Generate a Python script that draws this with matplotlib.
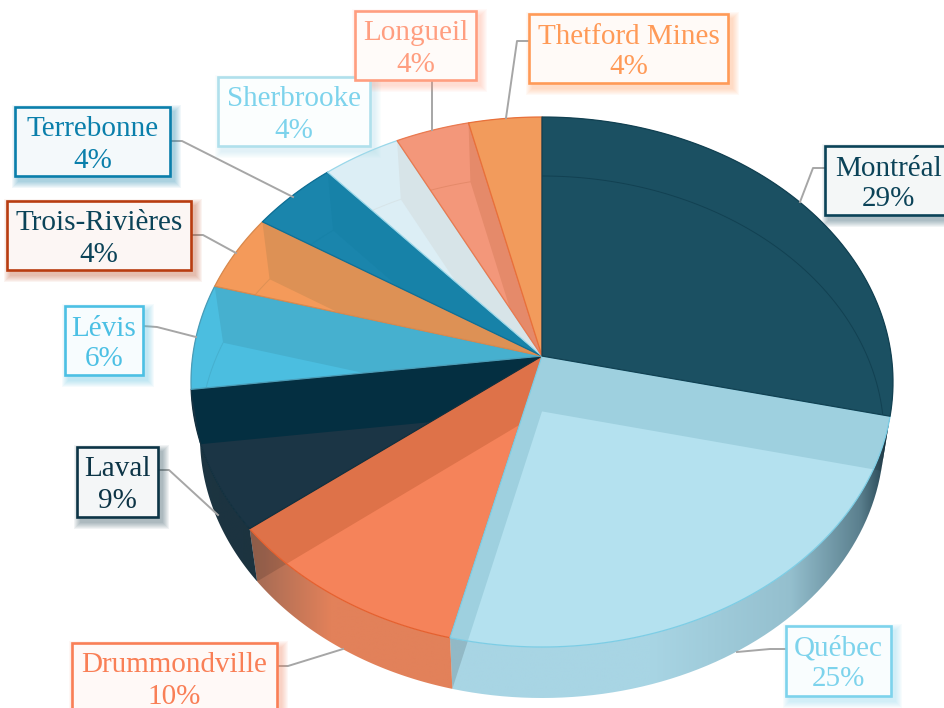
import numpy as np
import matplotlib
matplotlib.use("Agg")
import matplotlib.pyplot as plt
from matplotlib.patches import Polygon, Rectangle
from matplotlib.colors import to_rgb

# ---------- data ----------
cities = ["Montréal", "Québec", "Drummondville", "Laval", "Lévis",
          "Trois-Rivières", "Terrebonne", "Sherbrooke", "Longueil", "Thetford Mines"]
shares = [28.6, 25.23, 10.57, 8.6, 6.4, 4.65, 4.5, 4.0, 3.75, 3.7]
printed_pct = ["29%", "25%", "10%", "9%", "6%", "4%", "4%", "4%", "4%", "4%"]

# ---------- styles ----------
top_colors = ["#1b5062", "#b4e1ef", "#f5835a", "#1b3545", "#4bbee0",
              "#f49a5a", "#1a85ac", "#dceef5", "#f3977a", "#f29b5c"]
band_colors = ["#1b5062", "#9ed0df", "#de7249", "#042f41", "#46b0cf",
               "#dd9155", "#1782a8", "#d7e4e8", "#e58a6a", "#f29b5c"]
edge_colors = ["#124152", "#7ccde5", "#e5602e", "#12303f", "#4a9db8",
               "#d98a4e", "#0f6f95", "#9ad8ea", "#ea7a50", "#e8703a"]
wall_colors = ["#1c4a5c", "#a8d5e4", "#e2815a", "#1c303c", "#3f9fc0",
               "#d98a4e", "#15708f", "#c8dde5", "#d88468", "#d98a4e"]
text_colors = ["#0b4358", "#7dd3ec", "#f97f56", "#0c3446", "#4cc0e4",
               "#0b4358", "#0a7fab", "#7dd3ec", "#ff9e80", "#ff9a57"]
box_edges = ["#0b4358", "#7dd3ec", "#f97f56", "#0c3446", "#4cc0e4",
             "#b83c10", "#0a7fab", "#b0e0ec", "#ff9e80", "#ff9a57"]

# label layout in figure pixels: left, right, top, bottom
boxes = [(825, 952, 146, 215), (786, 891, 626, 696), (72, 277, 643, 714),
         (77, 158, 447, 517), (65, 143, 306, 375), (7, 191, 201, 270),
         (15, 170, 107, 176), (218, 370, 77, 146), (355, 476, 11, 80),
         (529, 728, 14, 83)]
leaders = [[(825, 168), (813, 168), (800, 202)], [(786, 649), (770, 649), (737, 652)],
           [(278, 666), (288, 666), (343, 649)], [(159, 470), (169, 470), (218, 515)],
           [(143, 326), (157, 327), (196, 337)], [(192, 235), (203, 235), (236, 253)],
           [(171, 141), (182, 141), (293, 197)], [],
           [(432, 81), (432, 130)], [(529, 41), (517, 41), (506, 118)]]

# 3-D pie projection (two ellipses, seen in perspective)
CX = 542
TOP = dict(cy=382, a=351, b=265)
BOT = dict(cy=437, a=342, b=261)
P = 0.098


def rim(frac, e):
    t = 2 * np.pi * np.asarray(frac)
    x, y = np.sin(t), np.cos(t)
    d = 1 + P * y
    return np.column_stack([CX + e["a"] * x * np.sqrt(1 - P**2) / d,
                            e["cy"] - e["b"] * (y + P) / d])


def apex(e):
    return np.array([CX, e["cy"] - e["b"] * P])


def shade(color, xs):
    t = np.interp(xs, [200, 262, 330, 650, 790, 860, 887],
                  [.45, .28, 0, 0, .14, .55, .95])
    c, dark = np.array(to_rgb(color)), np.array(to_rgb("#1c3a48"))
    return c[None, :] * (1 - t[:, None]) + dark[None, :] * t[:, None]


plt.rcParams["font.family"] = ["Liberation Serif", "DejaVu Serif"]
fig = plt.figure(figsize=(9.44, 7.08), dpi=100)
ax = fig.add_axes([0, 0, 1, 1])

fr = np.concatenate([[0], np.cumsum(shares)]) / np.sum(shares)
n = len(cities)

# outer walls, each a horizontal gradient clipped to the wall outline
for i in range(n):
    fs = np.linspace(fr[i], fr[i + 1], 60)
    p1, p2 = rim(fs, TOP), rim(fs, BOT)
    outline = np.vstack([p1, p2[::-1]])
    wall_poly = Polygon(outline, closed=True, fc="none", ec="none", zorder=1)
    ax.add_patch(wall_poly)
    x0, x1 = outline[:, 0].min(), outline[:, 0].max()
    y0, y1 = outline[:, 1].min(), outline[:, 1].max()
    xs = np.linspace(x0, x1, 200)
    im = ax.imshow(shade(wall_colors[i], xs)[None, :, :], extent=(x0, x1, y1, y0),
                   aspect="auto", interpolation="bilinear", zorder=1)
    im.set_clip_path(wall_poly)
    # radial inner walls seen through the outer wall
    for f in (fr[i], fr[i + 1]):
        q = [apex(TOP), rim([f], TOP)[0], rim([f], BOT)[0], apex(BOT)]
        pg = Polygon(q, closed=True, fc="black", alpha=.13, ec="none", zorder=1.5)
        ax.add_patch(pg)
        pg.set_clip_path(wall_poly)

# top faces; Québec and Montréal last so that their edges stay on top
order = list(range(2, n)) + [1, 0]
for rank, i in enumerate(order):
    fs = np.linspace(fr[i], fr[i + 1], 80)
    sector = np.vstack([apex(TOP), rim(fs, TOP)])
    z = 2 + rank * .1
    sec = Polygon(sector, closed=True, fc=top_colors[i], ec="none", zorder=z)
    ax.add_patch(sec)
    for f in (fr[i], fr[i + 1]):
        q = [apex(TOP), rim([f], TOP)[0], rim([f], BOT)[0], apex(BOT)]
        pg = Polygon(q, closed=True, fc=band_colors[i], ec="none", zorder=z + .01)
        ax.add_patch(pg)
        pg.set_clip_path(sec)
    bp = rim(fs, BOT)
    arc, = ax.plot(bp[:, 0], bp[:, 1], color=band_colors[i] if i else "#124152",
                   lw=.7, zorder=z + .02)
    arc.set_clip_path(sec)
    ax.add_patch(Polygon(sector, closed=True, fc="none", ec=edge_colors[i], lw=.9,
                         joinstyle="round", zorder=z + .03))

# labels
for i, city in enumerate(cities):
    l, r, t, b = boxes[i]
    if leaders[i]:
        pts = np.array(leaders[i])
        ax.plot(pts[:, 0], pts[:, 1], color="#a6a6a6", lw=1.4, zorder=4,
                solid_joinstyle="round", clip_on=False)
    for k in range(7, 0, -1):
        ax.add_patch(Rectangle((l + 4 - k, t + 5 - k), r - l + 2 * k, b - t + 2 * k,
                               fc=box_edges[i], ec="none", alpha=.055, zorder=5))
    edge = np.array(to_rgb(box_edges[i]))
    tint = tuple(edge * .045 + .955)
    ax.add_patch(Rectangle((l, t), r - l, b - t, fc=tint, ec=box_edges[i],
                           lw=1.9, zorder=6))
    xc = (l + r) / 2
    ax.text(xc, t + 22.5, city, color=text_colors[i], fontsize=21, ha="center",
            va="center", zorder=7)
    ax.text(xc, t + 53.5, printed_pct[i], color=text_colors[i], fontsize=21, ha="center",
            va="center", zorder=7)

ax.set_xlim(0, 944)
ax.set_ylim(708, 0)
ax.axis("off")
fig.savefig("out.png", dpi=100, facecolor="white")
